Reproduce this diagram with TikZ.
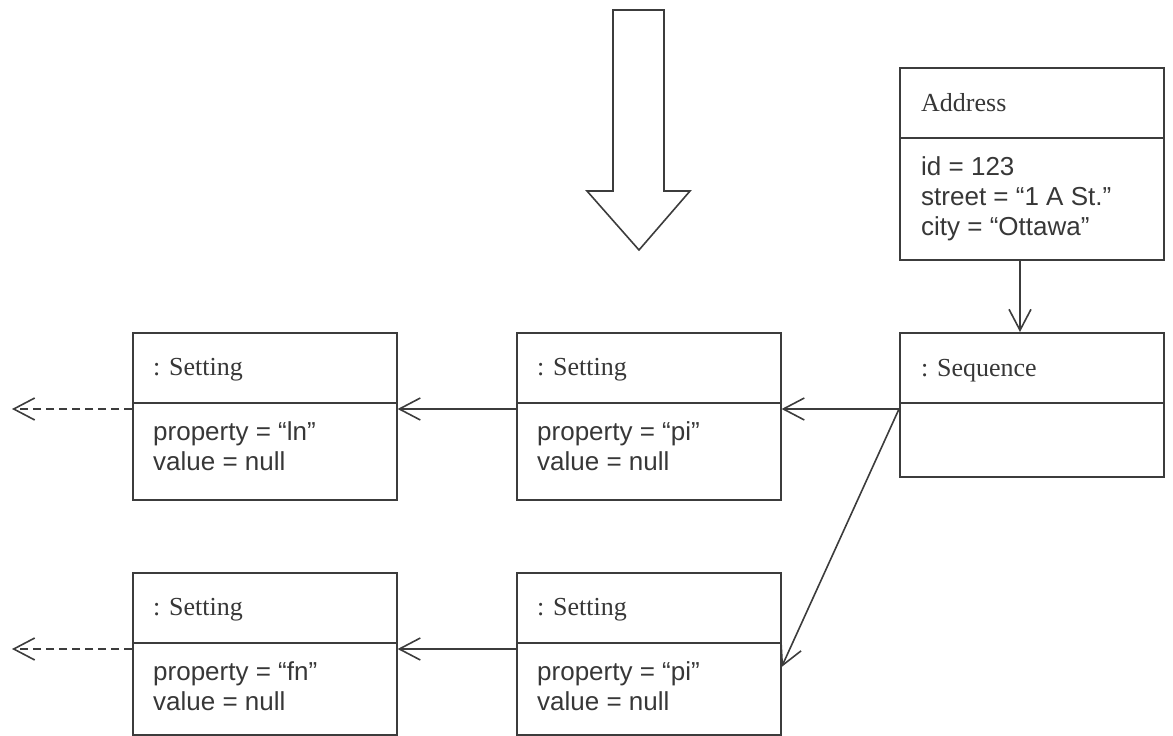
\documentclass[tikz,border=0pt]{standalone}
\usepackage{fontspec}
\setmainfont{Liberation Serif}
\setsansfont{Liberation Sans}
\usetikzlibrary{arrows.meta}
\definecolor{linec}{RGB}{60,60,60}
\definecolor{textc}{RGB}{55,55,55}
\begin{document}
\begin{tikzpicture}[x=1pt,y=-1pt,
  obj/.style={draw=linec, line width=1.6pt, minimum width=264pt, anchor=north west, inner sep=0pt},
  divider/.style={draw=linec, line width=1.6pt},
  ttl/.style={anchor=base west, inner sep=0pt, text=textc, font=\fontsize{26}{30}\selectfont},
  attr/.style={anchor=base west, inner sep=0pt, text=textc, font=\sffamily\fontsize{26}{30}\selectfont},
  link/.style={draw=linec, line width=1.6pt, -{Straight Barb[length=21pt,width=22pt,line width=1.6pt]}},
  dep/.style={link, dash pattern=on 8pt off 5pt},
  bigarrow/.style={draw=linec, line width=1.6pt, line join=miter}]
\useasboundingbox (0,0) rectangle (1173,736);

% big arrow
\draw[bigarrow] (613,10) -- (664,10) -- (664,191) -- (690,191) -- (639,250) -- (587,191) -- (613,191) -- cycle;

% boxes
\node[obj, minimum height=192pt] (adr) at (899,67) {};
\node[obj, minimum height=144pt] (seq) at (899,332) {};
\node[obj, minimum height=167pt] (s11) at (132,332) {};
\node[obj, minimum height=167pt] (s12) at (516,332) {};
\node[obj, minimum height=162pt] (s21) at (132,572) {};
\node[obj, minimum height=162pt] (s22) at (516,572) {};

% dividers
\foreach \b in {adr,seq,s11,s12,s21,s22}
  \draw[divider] ([yshift=-71pt]\b.north west) -- ([yshift=-71pt]\b.north east);

% texts
\node[ttl] (adrT) at (921,111) {Address};
\node[attr] (adrA) at (921,175) {id = 123};
\node[attr] (adrB) at (921,205) {street = “1 A St.”};
\node[attr] (adrC) at (921,235) {city = “Ottawa”};

\node[ttl] (seqT) at (921,376) {: Sequence};

\node[ttl] (s11T) at (153,375) {: Setting};
\node[attr] (s11A) at (153,440) {property = “ln”};
\node[attr] (s11B) at (153,470) {value = null};

\node[ttl] (s12T) at (537,375) {: Setting};
\node[attr] (s12A) at (537,440) {property = “pi”};
\node[attr] (s12B) at (537,470) {value = null};

\node[ttl] (s21T) at (153,615) {: Setting};
\node[attr] (s21A) at (153,680) {property = “fn”};
\node[attr] (s21B) at (153,710) {value = null};

\node[ttl] (s22T) at (537,615) {: Setting};
\node[attr] (s22A) at (537,680) {property = “pi”};
\node[attr] (s22B) at (537,710) {value = null};

% helper coordinates
\coordinate (ax) at (1020,0);
\coordinate (r1) at (0,409);
\coordinate (r2) at (0,649);
\coordinate (dg) at (0,667);
\coordinate (e1) at (12,409);
\coordinate (e2) at (12,649);

% connectors
\draw[link] (adr.south -| ax) -- (seq.north -| ax);
\draw[link] (seq.west |- r1) -- (s12.east |- r1);
\draw[link] (seq.west |- r1) -- (s22.east |- dg);
\draw[link] (s12.west |- r1) -- (s11.east |- r1);
\draw[link] (s22.west |- r2) -- (s21.east |- r2);
\draw[dep] (s11.west |- r1) -- (e1);
\draw[dep] (s21.west |- r2) -- (e2);
\end{tikzpicture}
\end{document}
